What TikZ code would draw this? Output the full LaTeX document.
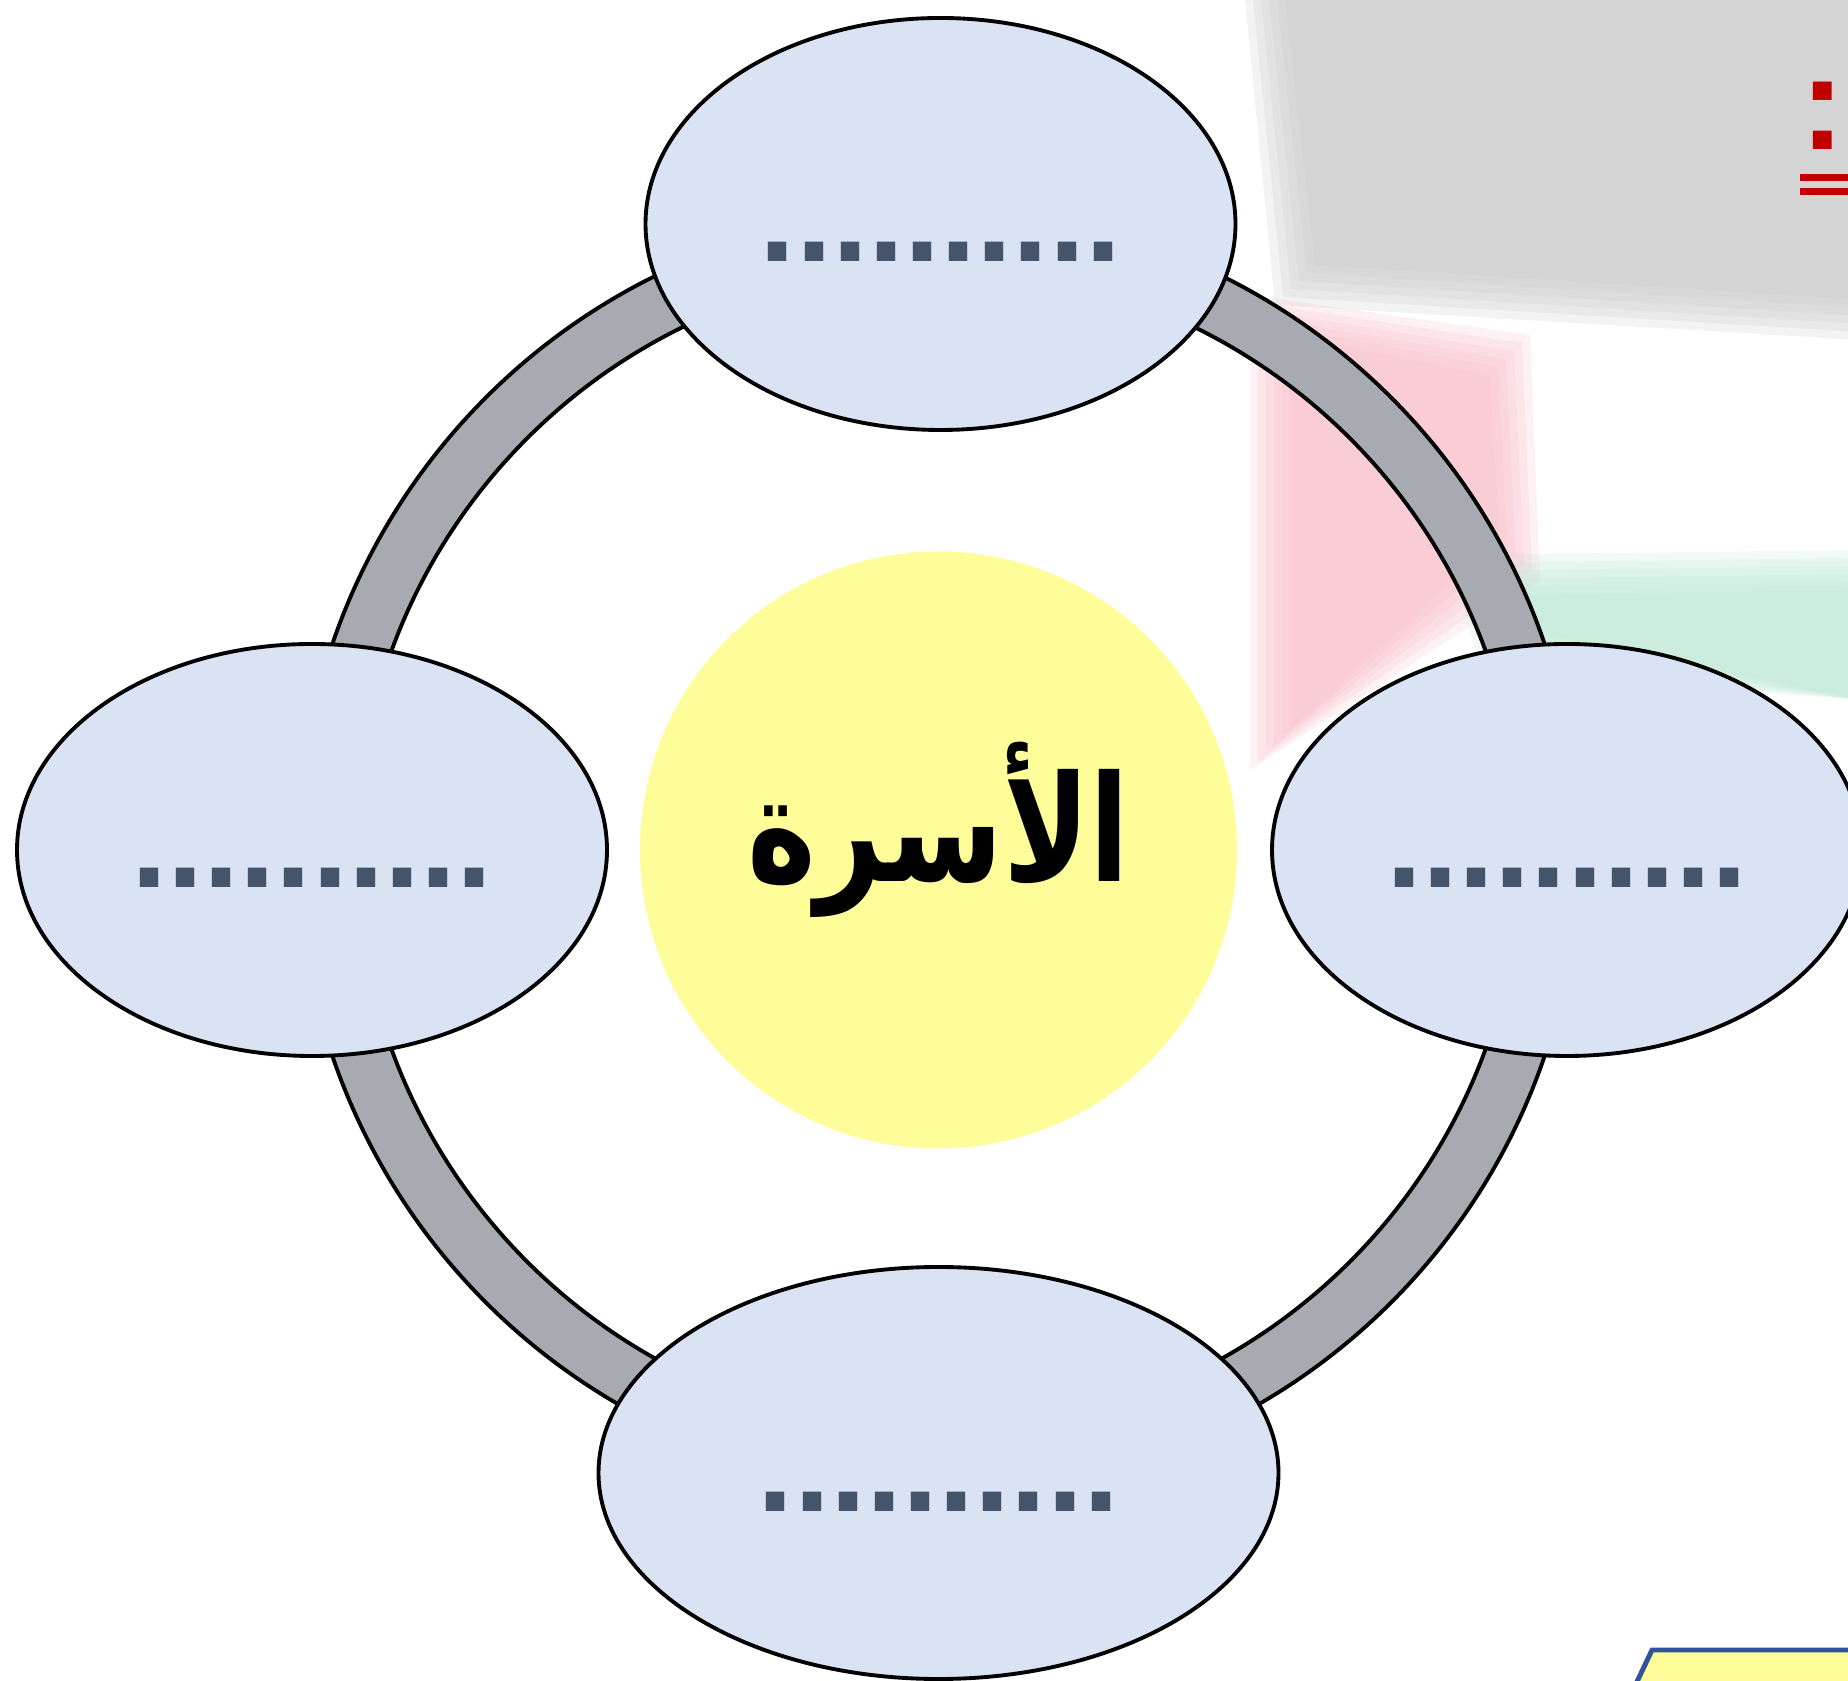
\documentclass[tikz,border=0pt]{standalone}
\usepackage{fontspec}
\usepackage{tikz}
\usetikzlibrary{shapes.geometric,calc}
\TeXXeTstate=1
\newfontfamily\arabicfont[Script=Arabic,FakeStretch=0.79]{DejaVu Sans}
\newfontfamily\dotfont{Liberation Sans}
\definecolor{partblue}{HTML}{DAE3F3}
\definecolor{ringgray}{HTML}{A8AAB2}
\definecolor{famyellow}{HTML}{FFFC9A}
\definecolor{dotslate}{HTML}{44546A}
\definecolor{titlered}{HTML}{C00000}
\definecolor{boxblue}{HTML}{2F5597}
\definecolor{bggray}{HTML}{C8C8C8}
\definecolor{bgpink}{HTML}{F9BFC9}
\definecolor{bggreen}{HTML}{BDE8D4}
\tikzset{
  part/.style={ellipse, draw=black, line width=1.1pt, fill=partblue, inner sep=0pt,
               minimum width=5.9cm, minimum height=4.12cm, text=dotslate,
               font=\dotfont\bfseries\fontsize{37}{40}\selectfont,
               text height=0.76cm, text depth=0pt},
  core/.style={circle, fill=famyellow, minimum size=5.97cm, inner sep=0pt,
               font=\arabicfont\bfseries\fontsize{42}{50}\selectfont,
               text height=1.2cm, text depth=0.56cm},
  ringband/.style={draw=black, line width=1.1pt, fill=ringgray, even odd rule},
  haze/.style={opacity=0.22},
}

\begin{document}
\begin{tikzpicture}
  \useasboundingbox (0,0) rectangle (18.48,16.80);
  % faded flag behind (layers for a soft edge)
  \foreach \d in {0,0.08,...,0.41} {
    \fill[bggray,haze] (12.45+\d,16.8) -- (18.6,16.8) -- (18.6,13.4+\d) -- (12.75+\d,13.75+\d) -- cycle;
    \fill[bgpink,haze] (12.5+\d,13.85-\d) -- (15.3-\d,13.45-\d) -- (15.4-\d,11.0+\d) -- (12.5+\d,9.1+\d) -- cycle;
    \fill[bggreen,haze] (14.5+\d,11.25-\d) -- (18.6,11.3-\d) -- (18.6,9.8) -- (14.8+\d,10.1+\d) -- cycle;
  }
  % centre
  \node[core] (fam) at (9.385,8.30) {\beginR الأسرة\endR};
  % ring
  \draw[ringband] (fam.center) circle[radius=6.40] (fam.center) circle[radius=5.82];
  % the four members
  \node[part] (top) at ($(fam)+(0.02,6.26)$) {..........};
  \node[part] (left) at ($(fam)+(-6.265,0)$) {..........};
  \node[part] (right) at ($(fam)+(6.285,0)$) {..........};
  \node[part, minimum width=6.8cm] (bottom) at ($(fam)+(0,-6.23)$) {..........};
  % title end, cut by the frame
  \node[font=\dotfont\bfseries\fontsize{38}{40}\selectfont, text=titlered, anchor=base,
        inner sep=0pt] (ttl) at (18.23,15.30) {:};
  \draw[titlered, line width=2pt] ($(ttl.base)+(-0.23,-0.28)$) -- ++(0.6,0);
  \draw[titlered, line width=2pt] ($(ttl.base)+(-0.23,-0.42)$) -- ++(0.6,0);
  % corner box
  \draw[boxblue, line width=1.4pt, fill=famyellow] (16.33,-0.1) -- (16.52,0.30) -- (18.7,0.30) -- (18.7,-0.1) -- cycle;
\end{tikzpicture}
\end{document}
